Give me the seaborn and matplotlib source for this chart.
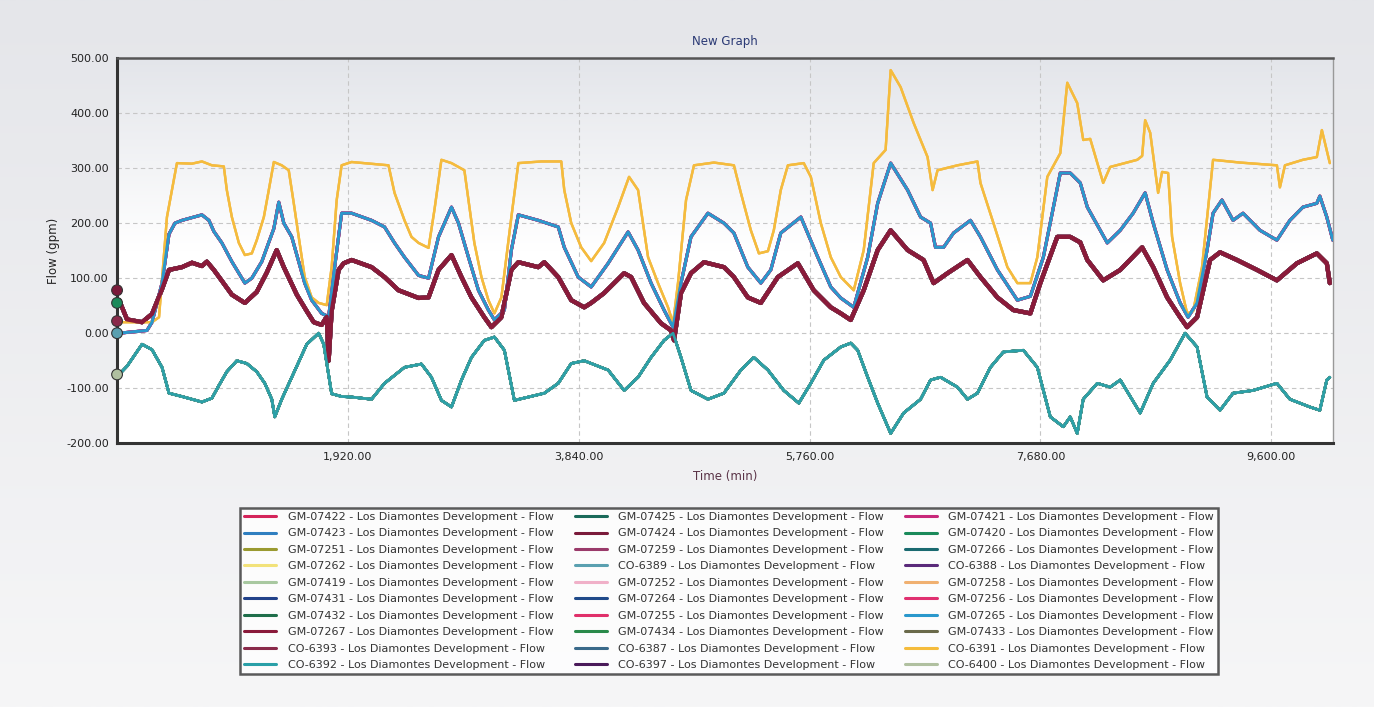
import numpy as np
import pandas as pd
import matplotlib.pyplot as plt
import matplotlib.ticker as mticker
from matplotlib.colors import LinearSegmentedColormap
from matplotlib.lines import Line2D
import seaborn as sns

# values: the 30 meters collapse into four visible bundles
yellow_t = [17, 291, 349, 415, 498, 623, 706, 789, 888, 913, 955, 1013, 1063, 1121, 1162, 1221,
            1262, 1304, 1370, 1428, 1470, 1511, 1561, 1619, 1677, 1744, 1785, 1827, 1868, 1951,
            2258, 2308, 2391, 2449, 2508, 2591, 2640, 2698, 2782, 2889, 2923, 2972, 3031, 3089,
            3139, 3197, 3280, 3338, 3529, 3695, 3720, 3778, 3861, 3944, 4052, 4168, 4259, 4334,
            4417, 4500, 4583, 4625, 4666, 4733, 4799, 4965, 5131, 5189, 5272, 5339, 5414, 5463,
            5521, 5580, 5712, 5771, 5854, 5937, 6020, 6128, 6211, 6294, 6393, 6435, 6518, 6626,
            6742, 6784, 6825, 6991, 7157, 7182, 7290, 7406, 7489, 7597, 7655, 7738, 7846, 7904,
            7987, 8037, 8095, 8203, 8261, 8486, 8527, 8552, 8594, 8660, 8693, 8743, 8776, 8843,
            8901, 8951, 9025, 9117, 9341, 9648, 9673, 9715, 9864, 9980, 10022, 10088]
yellow_q = [20, 20, 29, 211, 309, 308, 312, 305, 303, 260, 211, 164, 142, 145, 169, 211,
            260, 311, 305, 296, 236, 175, 102, 65, 55, 51, 120, 242, 305, 311,
            305, 255, 205, 175, 164, 155, 224, 315, 309, 296, 242, 164, 102, 60,
            36, 65, 211, 309, 312, 312, 260, 200, 156, 131, 164, 229, 284, 260,
            138, 91, 47, 18, 91, 242, 305, 310, 305, 255, 187, 145, 149, 187,
            260, 305, 309, 284, 200, 138, 102, 78, 151, 309, 333, 478, 447, 382,
            320, 260, 296, 305, 312, 273, 200, 120, 91, 91, 138, 284, 327, 455,
            418, 351, 353, 273, 302, 315, 322, 387, 364, 255, 293, 291, 175, 91,
            36, 40, 120, 315, 310, 305, 265, 305, 315, 320, 369, 309]

blue_t = [17, 249, 291, 374, 432, 482, 540, 623, 706, 764, 805, 872, 955, 1063, 1121, 1204,
          1262, 1304, 1345, 1387, 1453, 1511, 1561, 1619, 1702, 1760, 1810, 1868, 1951, 2117,
          2225, 2308, 2391, 2508, 2591, 2674, 2782, 2840, 2923, 3006, 3089, 3139, 3222, 3280,
          3338, 3504, 3670, 3720, 3836, 3944, 4085, 4251, 4334, 4442, 4550, 4625, 4691, 4774,
          4915, 5048, 5131, 5247, 5355, 5438, 5521, 5688, 5829, 5937, 6020, 6128, 6244, 6327,
          6435, 6576, 6684, 6767, 6808, 6875, 6958, 7099, 7182, 7323, 7489, 7597, 7705, 7846,
          7929, 8012, 8071, 8237, 8345, 8452, 8552, 8619, 8735, 8843, 8909, 8984, 9067, 9117,
          9191, 9283, 9366, 9507, 9648, 9756, 9864, 9980, 10005, 10063, 10113]
blue_q = [0, 5, 20, 91, 180, 200, 205, 210, 215, 205, 185, 164, 130, 91, 100, 130,
          165, 190, 238, 200, 175, 130, 91, 60, 36, 30, 120, 218, 218, 205,
          193, 164, 138, 105, 100, 175, 229, 200, 138, 78, 42, 24, 42, 151,
          215, 205, 193, 156, 102, 84, 127, 184, 151, 91, 42, 11, 91, 175,
          218, 200, 182, 120, 91, 115, 182, 211, 138, 84, 64, 47, 138, 236,
          309, 260, 211, 200, 156, 156, 182, 205, 175, 115, 60, 67, 138, 291,
          291, 273, 229, 164, 187, 218, 255, 200, 115, 55, 29, 55, 151, 218,
          242, 205, 218, 187, 169, 205, 229, 236, 249, 211, 169]

maroon_t = [17, 83, 208, 291, 374, 432, 540, 623, 706, 747, 805, 872, 955, 1063, 1162, 1245,
            1328, 1387, 1495, 1578, 1636, 1702, 1744, 1760, 1785, 1843, 1885, 1951, 2117, 2225,
            2341, 2508, 2591, 2674, 2782, 2865, 2948, 3055, 3114, 3197, 3280, 3338, 3504, 3554,
            3670, 3778, 3886, 3944, 4052, 4218, 4276, 4383, 4525, 4608, 4633, 4691, 4774, 4882,
            5048, 5131, 5247, 5355, 5497, 5663, 5795, 5937, 6020, 6103, 6211, 6327, 6435, 6576,
            6709, 6792, 6908, 7074, 7182, 7323, 7456, 7597, 7680, 7821, 7929, 8012, 8071, 8203,
            8345, 8527, 8619, 8735, 8843, 8901, 8984, 9092, 9175, 9316, 9482, 9648, 9814, 9980,
            10063, 10088]
maroon_q = [60, 25, 20, 35, 80, 115, 120, 128, 122, 130, 115, 95, 70, 55, 75, 110,
            151, 120, 70, 40, 20, 15, 30, -50, 40, 115, 127, 133, 120, 102,
            78, 64, 65, 115, 142, 102, 65, 29, 11, 29, 115, 129, 120, 129,
            102, 60, 47, 55, 73, 109, 102, 55, 18, 5, -13, 73, 109, 129,
            120, 102, 65, 55, 102, 127, 78, 47, 36, 24, 78, 151, 187, 151,
            133, 91, 109, 133, 102, 65, 42, 36, 91, 175, 175, 165, 133, 96,
            115, 156, 120, 65, 29, 11, 29, 133, 147, 133, 115, 96, 127, 145,
            127, 91]

teal_t = [17, 83, 208, 291, 374, 432, 540, 623, 706, 789, 847, 913, 996, 1079, 1162, 1229,
          1287, 1312, 1370, 1495, 1578, 1677, 1719, 1785, 1868, 1951, 2117, 2225, 2391, 2532,
          2615, 2698, 2782, 2865, 2948, 3055, 3139, 3222, 3305, 3421, 3554, 3670, 3778, 3886,
          4085, 4218, 4334, 4442, 4550, 4625, 4691, 4774, 4915, 5048, 5189, 5297, 5414, 5546,
          5671, 5771, 5879, 6020, 6103, 6161, 6244, 6327, 6435, 6543, 6684, 6767, 6850, 6991,
          7074, 7157, 7265, 7373, 7539, 7655, 7763, 7871, 7929, 7987, 8037, 8154, 8261, 8345,
          8511, 8619, 8760, 8884, 8984, 9067, 9175, 9283, 9449, 9648, 9756, 9922, 10005, 10063,
          10088]
teal_q = [-75, -60, -20, -30, -62, -109, -115, -120, -125, -118, -95, -70, -50, -55, -70, -91,
          -120, -152, -120, -60, -20, 0, -20, -110, -115, -116, -120, -91, -62, -56,
          -80, -122, -134, -85, -44, -13, -7, -31, -122, -116, -109, -91, -55, -50,
          -67, -104, -80, -44, -13, 0, -44, -104, -120, -109, -67, -44, -67, -104,
          -127, -91, -49, -25, -18, -31, -80, -127, -182, -145, -120, -85, -80, -98,
          -120, -109, -62, -34, -31, -62, -152, -170, -152, -182, -120, -91, -98, -85,
          -145, -91, -49, 0, -25, -116, -140, -109, -104, -91, -120, -134, -140, -85,
          -80]

# legend order (column by column, as in the reference)
series_names = [
    "GM-07422", "GM-07423", "GM-07251", "GM-07262", "GM-07419",
    "GM-07431", "GM-07432", "GM-07267", "CO-6393", "CO-6392",
    "GM-07425", "GM-07424", "GM-07259", "CO-6389", "GM-07252",
    "GM-07264", "GM-07255", "GM-07434", "CO-6387", "CO-6397",
    "GM-07421", "GM-07420", "GM-07266", "CO-6388", "GM-07258",
    "GM-07256", "GM-07265", "GM-07433", "CO-6391", "CO-6400",
]
series_colors = [
    "#d4245a", "#2f7fc0", "#9a9a30", "#f2e27a", "#a8c8a0",
    "#22428a", "#1f6e4a", "#8a1a3a", "#8a2a4a", "#2aa0a8",
    "#1a6a5a", "#7a1a3a", "#9a3a6a", "#5aa0b0", "#f0b0c8",
    "#204a8a", "#e0306a", "#2a8a4a", "#3a6a8a", "#4a1a5a",
    "#c8287a", "#1a8a5a", "#1a6a70", "#5a2a7a", "#f0b070",
    "#e03070", "#2a98cc", "#6a6a4a", "#f5bc3c", "#b0c0a0",
]
series_group = [
    "blue", "blue", "maroon", "yellow", "teal",
    "teal", "teal", "maroon", "maroon", "teal",
    "teal", "maroon", "maroon", "teal", "maroon",
    "teal", "blue", "teal", "teal", "maroon",
    "blue", "teal", "teal", "maroon", "yellow",
    "blue", "blue", "maroon", "yellow", "teal",
]
on_top = ["CO-6391", "GM-07265", "GM-07267", "CO-6392"]

# meters that only report a first reading at the left edge
dot_names = ["GM-07424", "GM-07420", "CO-6393", "CO-6389", "CO-6400"]
dot_time = [0, 0, 0, 0, 0]
dot_flow = [78, 55, 22, 0, -75]

suffix = " - Los Diamontes Development - Flow"
groups = {"yellow": (yellow_t, yellow_q), "blue": (blue_t, blue_q),
          "maroon": (maroon_t, maroon_q), "teal": (teal_t, teal_q)}
frames = []
for name, grp in zip(series_names, series_group):
    t, q = groups[grp]
    frames.append(pd.DataFrame({"series": name + suffix, "bundle": grp, "time": t, "flow": q}))
df = pd.concat(frames, ignore_index=True)
palette = {n + suffix: c for n, c in zip(series_names, series_colors)}
hue_order = [n + suffix for n in series_names if n not in on_top] + [n + suffix for n in on_top]

sns.set_style("white")
plt.rcParams["font.family"] = ["DejaVu Sans"]

fig = plt.figure(figsize=(13.74, 7.07), dpi=100)
bg = fig.add_axes([0, 0, 1, 1], zorder=-10)
bg_cmap = LinearSegmentedColormap.from_list("bg", ["#f6f6f7", "#e5e6ea"])
bg.imshow(np.linspace(0, 1, 256).reshape(-1, 1), aspect="auto", cmap=bg_cmap,
          origin="lower", extent=[0, 1, 0, 1])
bg.set_axis_off()

ax = fig.add_axes([0.0852, 0.373, 0.8850, 0.545])
ax.set_facecolor("none")
plot_cmap = LinearSegmentedColormap.from_list("pl", ["#ffffff", "#ffffff", "#e3e5ea"])
ax.imshow(np.linspace(0, 1, 256).reshape(-1, 1), aspect="auto", cmap=plot_cmap,
          origin="lower", extent=[0, 10115, -200, 500], zorder=0)

sns.lineplot(data=df, x="time", y="flow", hue="series", hue_order=hue_order,
             palette=palette, size="bundle",
             sizes={"yellow": 1.7, "blue": 2.2, "maroon": 3.0, "teal": 1.9},
             estimator=None, sort=False, legend=False, ax=ax, zorder=3)

dots = pd.DataFrame({"series": [n + suffix for n in dot_names], "time": dot_time, "flow": dot_flow})
sns.scatterplot(data=dots, x="time", y="flow", hue="series", palette=palette, s=60,
                edgecolor="#333333", linewidth=0.8, legend=False, ax=ax, zorder=5, clip_on=False)

ax.set_xlim(0, 10115)
ax.set_ylim(-200, 500)
ax.set_xticks([1920, 3840, 5760, 7680, 9600])
ax.set_yticks(np.arange(-200, 501, 100))
ax.xaxis.set_major_formatter(mticker.FuncFormatter(lambda v, p: f"{v:,.2f}"))
ax.yaxis.set_major_formatter(mticker.FuncFormatter(lambda v, p: f"{v:.2f}"))
ax.tick_params(axis="both", labelsize=8, colors="#222222", length=0, pad=6)
ax.grid(True, linestyle=(0, (4, 3)), color="#c6c6c6", linewidth=0.8)
ax.set_axisbelow(True)
for side, lw, col in [("left", 2.2, "#333333"), ("bottom", 2.2, "#333333"),
                      ("top", 1.8, "#555555"), ("right", 1.0, "#999999")]:
    ax.spines[side].set_visible(True)
    ax.spines[side].set_linewidth(lw)
    ax.spines[side].set_color(col)

ax.set_title("New Graph", fontsize=8.5, color="#2b3a75", pad=9)
ax.set_xlabel("Time (min)", fontsize=8.5, color="#5a3347", labelpad=6)
ax.set_ylabel("Flow (gpm)", fontsize=8.5, color="#222222", labelpad=4)

handles = [Line2D([0], [0], color=c, linewidth=2.2) for c in series_colors]
labels = [n + suffix for n in series_names]
leg = fig.legend(handles, labels, loc="upper center", bbox_to_anchor=(0.5306, 0.290),
                 ncol=3, fontsize=8, frameon=True, fancybox=False, handlelength=2.9,
                 handletextpad=1.0, columnspacing=1.9, labelspacing=0.58, borderpad=0.4)
leg.get_frame().set_edgecolor("#333333")
leg.get_frame().set_linewidth(1.8)
leg.get_frame().set_facecolor("#ffffff")
for txt in leg.get_texts():
    txt.set_color("#333333")

fig.savefig("out.png", dpi=100)
